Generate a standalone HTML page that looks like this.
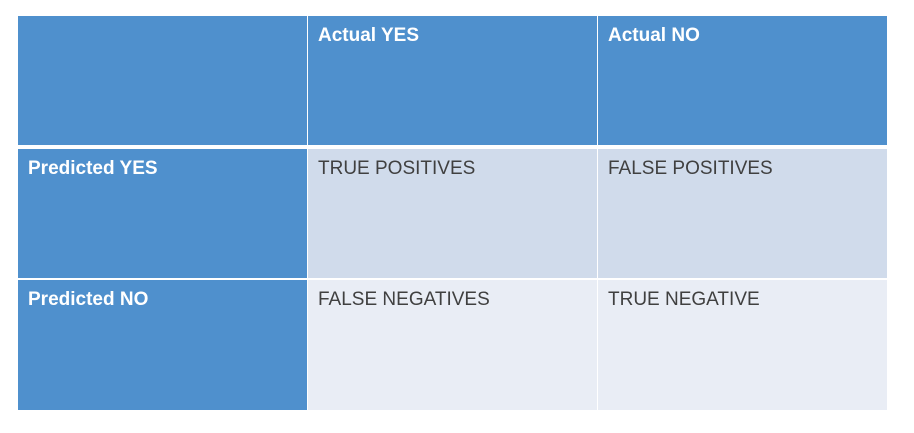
<!DOCTYPE html>
<html><head><meta charset="utf-8"><style>
body{margin:0;width:914px;height:433px;background:#fff;position:relative;overflow:hidden;font-family:"Liberation Sans",sans-serif}
.c{position:absolute;box-sizing:border-box;padding:9px 0 0 10px;font-size:19px;color:#404040}
.h{background:#4f90cd;color:#fff;font-weight:bold}
.a{background:#d0dbeb}
.b{background:#e9edf5}
</style></head><body>
<div>
<div class="c h" style="left:18px;top:16px;width:289px;height:129px"></div>
<div class="c h" style="left:308px;top:16px;width:289px;height:129px">Actual YES</div>
<div class="c h" style="left:598px;top:16px;width:289px;height:129px">Actual NO</div>
<div class="c h" style="left:18px;top:149px;width:289px;height:129px">Predicted YES</div>
<div class="c a" style="left:308px;top:149px;width:289px;height:129px">TRUE POSITIVES</div>
<div class="c a" style="left:598px;top:149px;width:289px;height:129px">FALSE POSITIVES</div>
<div class="c h" style="left:18px;top:280px;width:289px;height:130px">Predicted NO</div>
<div class="c b" style="left:308px;top:280px;width:289px;height:130px">FALSE NEGATIVES</div>
<div class="c b" style="left:598px;top:280px;width:289px;height:130px">TRUE NEGATIVE</div>
</div>
</body></html>
